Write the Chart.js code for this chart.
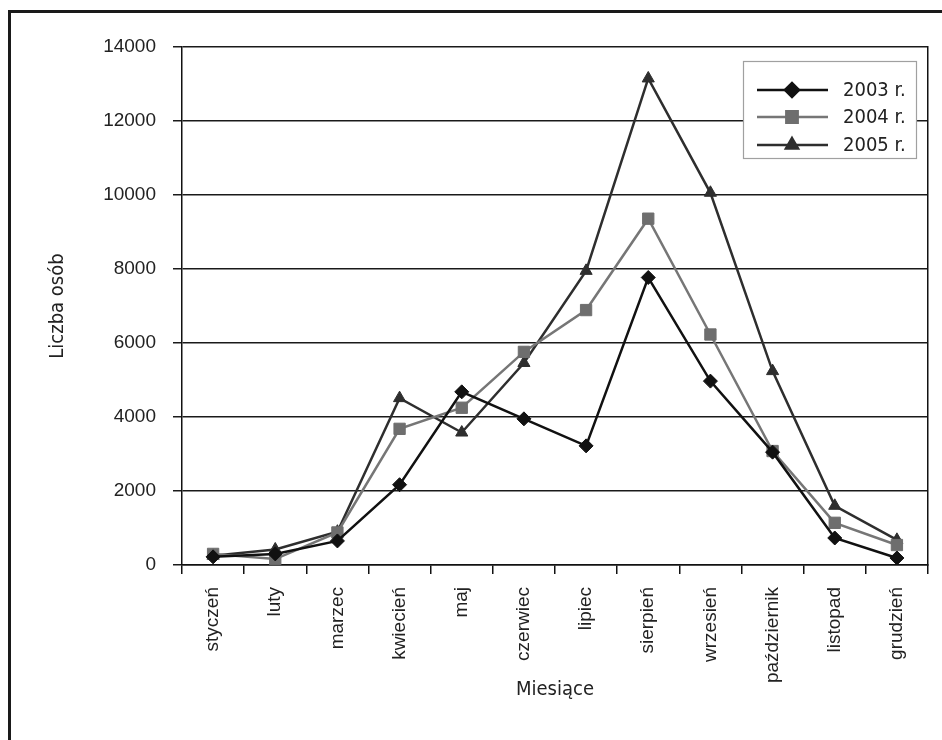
<!DOCTYPE html>
<html><head><meta charset="utf-8">
<script src="https://cdn.jsdelivr.net/npm/chart.js@4"></script>
<style>html,body{margin:0;padding:0;background:#fff}</style>
</head><body>
<canvas id="c" width="942" height="740"></canvas>
<script>
const months = ['styczeń','luty','marzec','kwiecień','maj','czerwiec','lipiec','sierpień','wrzesień','październik','listopad','grudzień'];
const seriesLabels = ['2003 r.','2004 r.','2005 r.'];
const s2003 = [220, 300, 650, 2170, 4680, 3950, 3220, 7770, 4970, 3050, 730, 190];
const s2004 = [300, 160, 880, 3680, 4250, 5760, 6890, 9360, 6230, 3080, 1140, 540];
const s2005 = [250, 420, 900, 4510, 3580, 5460, 7950, 13150, 10060, 5240, 1600, 680];
const yMin = 0, yMax = 14000, yStep = 2000;
const xTitle = 'Miesiące';
const yTitle = 'Liczba osób';

const NARROW = "'Liberation Sans Narrow', 'Arial Narrow', 'DejaVu Sans Condensed', 'Liberation Sans', sans-serif";
const REG = "'Liberation Sans', Arial, sans-serif";

const framePlugin = {
  id: 'frame',
  beforeDraw(chart) {
    const ctx = chart.ctx;
    ctx.save();
    ctx.fillStyle = '#fff';
    ctx.fillRect(0, 0, chart.width, chart.height);
    ctx.fillStyle = '#1a1a1a';
    ctx.fillRect(8, 10, 942 - 8, 3);
    ctx.fillRect(8, 10, 3, 740 - 10);
    ctx.restore();
  }
};

const legendPlugin = {
  id: 'boxLegend',
  afterDraw(chart) {
    const ctx = chart.ctx;
    const bx = 743, by = 61, bw = 173, bh = 97;
    ctx.save();
    ctx.fillStyle = '#fff';
    ctx.fillRect(bx, by, bw, bh);
    ctx.strokeStyle = '#a0a0a0';
    ctx.lineWidth = 1.2;
    ctx.strokeRect(bx + 0.5, by + 0.5, bw, bh);
    const rows = [90, 117, 145];
    chart.data.datasets.forEach((ds, i) => {
      const y = rows[i];
      ctx.strokeStyle = ds.borderColor;
      ctx.lineWidth = ds.borderWidth;
      ctx.beginPath();
      ctx.moveTo(757, y); ctx.lineTo(828, y);
      ctx.stroke();
      ctx.fillStyle = ds.pointBackgroundColor;
      ctx.strokeStyle = ds.pointBorderColor;
      Chart.helpers.drawPoint(ctx, {pointStyle: ds.pointStyle, radius: ds.pointRadius, rotation: 0, borderWidth: 1}, 792, y);
      ctx.fillStyle = '#222';
      ctx.font = '20px ' + NARROW;
      ctx.textBaseline = 'middle';
      ctx.textAlign = 'left';
      ctx.fillText(ds.label, 843, y + 1);
    });
    ctx.restore();
  }
};

const PAD = {left: 40, top: 47, right: 14, bottom: 20};

new Chart(document.getElementById('c'), {
  type: 'line',
  data: {
    labels: months,
    datasets: [
      {label: seriesLabels[0], data: s2003, borderColor: '#111', borderWidth: 2.5,
       pointStyle: 'rectRot', pointRadius: 7, pointBackgroundColor: '#111', pointBorderColor: '#111', pointBorderWidth: 1, tension: 0},
      {label: seriesLabels[1], data: s2004, borderColor: '#767676', borderWidth: 2.5,
       pointStyle: 'rect', pointRadius: 8, pointBackgroundColor: '#6e6e6e', pointBorderColor: '#6e6e6e', pointBorderWidth: 1, tension: 0},
      {label: seriesLabels[2], data: s2005, borderColor: '#2e2e2e', borderWidth: 2.5,
       pointStyle: 'triangle', pointRadius: 7, pointBackgroundColor: '#2e2e2e', pointBorderColor: '#2e2e2e', pointBorderWidth: 1, tension: 0}
    ]
  },
  options: {
    responsive: false,
    animation: false,
    devicePixelRatio: 1,
    layout: {padding: PAD},
    plugins: {legend: {display: false}, tooltip: {enabled: false}},
    scales: {
      x: {
        offset: true,
        grid: {display: true, drawOnChartArea: false, drawTicks: true, tickLength: 9, offset: true, color: '#111', lineWidth: 1.5},
        border: {display: true, color: '#111', width: 1.5},
        ticks: {autoSkip: false, minRotation: 90, maxRotation: 90, padding: 13, color: '#222', font: {family: REG, size: 19}},
        title: {display: true, text: xTitle, color: '#222', font: {family: NARROW, size: 20}, padding: {top: 0, bottom: 18}},
        afterFit(scale) { scale.height = 740 - PAD.bottom - 565; }
      },
      y: {
        min: yMin, max: yMax,
        ticks: {stepSize: yStep, padding: 17, color: '#222', font: {family: REG, size: 19},
                callback: (v) => String(v)},
        grid: {color: '#1a1a1a', lineWidth: 1.5, tickLength: 9, drawTicks: true},
        border: {display: true, color: '#111', width: 1.5},
        title: {display: true, text: yTitle, color: '#222', font: {family: NARROW, size: 20}, padding: {top: 6, bottom: 0}},
        afterFit(scale) { scale.width = 182 - PAD.left; }
      },
      y2: {
        position: 'right', min: yMin, max: yMax,
        ticks: {display: false},
        grid: {drawOnChartArea: false, drawTicks: false},
        border: {display: true, color: '#111', width: 1.5},
        afterFit(scale) { scale.width = 0; }
      }
    }
  },
  plugins: [framePlugin, legendPlugin]
});
</script>
</body></html>
